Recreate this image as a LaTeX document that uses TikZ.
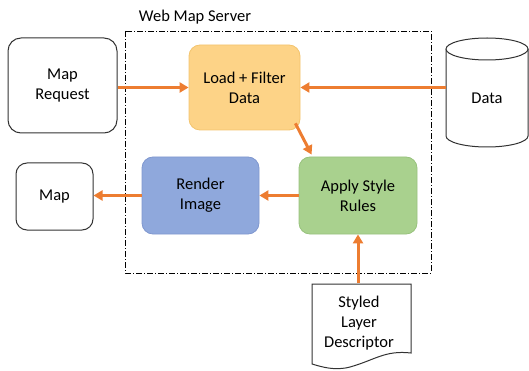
\documentclass[tikz,border=0pt]{standalone}
\usepackage{fontspec}
\setmainfont{Carlito}
\usetikzlibrary{arrows.meta,calc}
\definecolor{arrc}{HTML}{ED7D31}
\definecolor{loadf}{HTML}{FDD387}
\definecolor{loadd}{HTML}{F3C46E}
\definecolor{rendf}{HTML}{8FA8DC}
\definecolor{rendd}{HTML}{7F97CF}
\definecolor{applf}{HTML}{A9D18E}
\definecolor{appld}{HTML}{98C27D}
\tikzset{
  txt/.style={font=\fontsize{16.5}{20}\selectfont, align=center, text=black},
  wbox/.style={txt, draw=black!80, line width=1pt, rounded corners=13pt, fill=white},
  cbox/.style={txt, rounded corners=11pt, line width=0.8pt},
  arr/.style={draw=arrc, line width=3pt, -{Triangle[length=9pt,width=10pt]}},
  frame/.style={draw=black, line width=0.8pt, dash pattern=on 6pt off 2pt on 1pt off 2pt}
}
\begin{document}
\begin{tikzpicture}[x=1pt,y=-1pt]
\useasboundingbox (0,0) rectangle (529,371);
% frame
\draw[frame] (125,31) rectangle (431,273);
\node[txt] (title) at (195,17) {Web Map Server};
% boxes
\node[wbox, minimum width=109pt, minimum height=95pt] (req) at (62.5,85.5) {Map\\Request};
\node[cbox, fill=loadf, draw=loadd, minimum width=111pt, minimum height=85pt] (load) at (244.5,87.5) {Load + Filter\\Data};
\node[cbox, fill=rendf, draw=rendd, minimum width=117pt, minimum height=77pt] (rend) at (200.5,195.5) {Render\\Image};
\node[cbox, fill=applf, draw=appld, minimum width=118pt, minimum height=77pt] (apply) at (358,195.5) {Apply Style\\Rules};
\node[wbox, rounded corners=11pt, minimum width=77pt, minimum height=67pt] (map) at (54.5,196.5) {Map};
% cylinder
\draw[black!80, line width=1pt, fill=white] (446,49) -- (446,136) arc[start angle=180, end angle=360, x radius=41pt, y radius=11pt] -- (528,49);
\draw[black!80, line width=1pt, fill=white] (487,49) ellipse[x radius=41pt, y radius=11pt];
\node[txt, minimum width=82pt] (data) at (487,98) {Data};
% document
\draw[black!80, line width=1pt, fill=white] (312,284) -- (411,284) -- (411,353)
  .. controls (385,350) and (375,360) .. (350,367)
  .. controls (335,371) and (322,367) .. (312,364) -- cycle;
\node[txt, minimum width=99pt] (sld) at (359,323) {Styled\\Layer\\Descriptor};
\coordinate (sldtop) at (358,283);
% arrows
\draw[arr] (req.east |- load.west) -- (load.west);
\draw[arr] (data.west |- load.east) -- (load.east);
\draw[arr] ($(load.south east)+(-5,-7)$) -- ($(apply.north west)+(13,-2)$);
\draw[arr] (apply.west) -- (rend.east);
\draw[arr] (rend.west) -- (rend.west -| map.east);
\draw[arr] (sldtop) -- (apply.south);
\end{tikzpicture}
\end{document}
